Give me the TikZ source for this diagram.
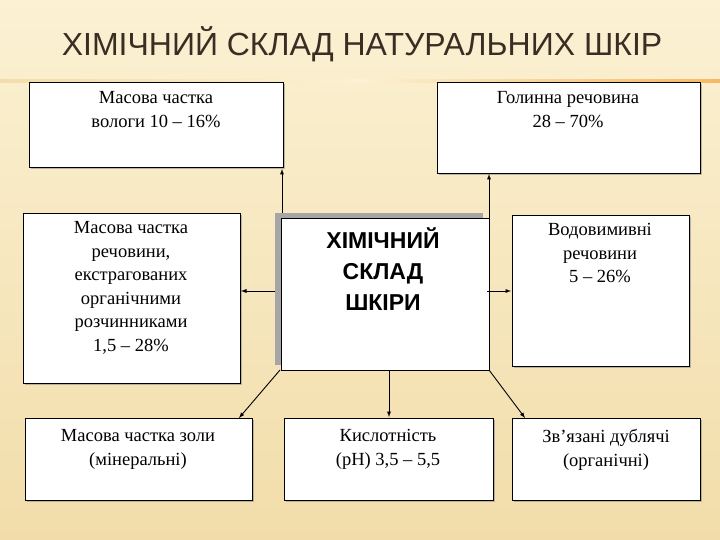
\documentclass[tikz,border=0pt]{standalone}
\usepackage{fontspec}
\setmainfont{Liberation Serif}
\newfontfamily\titlefont{Liberation Sans}
\usetikzlibrary{shadows}
\definecolor{bgA}{HTML}{FBF1D3}
\definecolor{bgB}{HTML}{F2DDAA}
\definecolor{titlec}{HTML}{3A2E24}
\begin{document}
\begin{tikzpicture}[x=1pt,y=-1pt,
 box/.style={draw=black,fill=white,line width=0.8pt,drop shadow={shadow xshift=2pt,shadow yshift=-2pt,opacity=0.5}},
 txt/.style={font=\fontsize{18.5}{23.5}\selectfont,align=center,anchor=north},
 arr/.style={-latex,line width=0.9pt}]
\useasboundingbox (0,0) rectangle (720,540);
\shade[top color=bgA,bottom color=bgB] (0,0) rectangle (720,540);
\shade[left color=bgB,right color=bgB!60!orange,middle color=bgA] (0,80) rectangle (720,83);
\node[font=\titlefont\fontsize{32}{36}\selectfont,text=titlec] (title) at (362,44) {ХІМІЧНИЙ СКЛАД НАТУРАЛЬНИХ ШКІР};
% boxes
\draw[box] (29,82) rectangle (283,167);
\node[txt] (b1) at (156,88) {Масова частка\\вологи 10 – 16\%};
\draw[box] (437,82) rectangle (700,173);
\node[txt] (b2) at (568,88) {Голинна речовина\\28 – 70\%};
\draw[box] (23,213) rectangle (240,383);
\node[txt] (b3) at (131,218) {Масова частка\\речовини,\\екстрагованих\\органічними\\розчинниками\\1,5 – 28\%};
\fill[gray!70] (275,213) rectangle (483,365);
\draw[fill=white,line width=0.8pt] (281,218) rectangle (489,370);
\node[txt,font=\titlefont\bfseries\fontsize{23}{31}\selectfont] (c) at (383,224) {ХІМІЧНИЙ\\СКЛАД\\ШКІРИ};
\draw[box] (512,215) rectangle (689,366);
\node[txt] (b4) at (600,220) {Водовимивні\\речовини\\5 – 26\%};
\draw[box] (25,418) rectangle (252,500);
\node[txt] (b5) at (138,426) {Масова частка золи\\(мінеральні)};
\draw[box] (284,418) rectangle (493,500);
\node[txt] (b6) at (388,426) {Кислотність\\(pH) 3,5 – 5,5};
\draw[box] (512,418) rectangle (700,500);
\node[txt] (b7) at (606,426) {Зв’язані дублячі\\(органічні)};
% arrows
\coordinate (c1) at (282,213); \coordinate (t1) at (282,169);
\coordinate (c2) at (489,218); \coordinate (t2) at (489,174);
\coordinate (c3) at (275,291); \coordinate (t3) at (241,291);
\coordinate (c4) at (487,291); \coordinate (t4) at (511,291);
\coordinate (c5) at (280,370); \coordinate (t5) at (239,418);
\coordinate (c6) at (389,370); \coordinate (t6) at (389,417);
\coordinate (c7) at (489,370); \coordinate (t7) at (525,418);
\foreach \i in {1,...,7} \draw[arr] (c\i) -- (t\i);
\end{tikzpicture}
\end{document}
